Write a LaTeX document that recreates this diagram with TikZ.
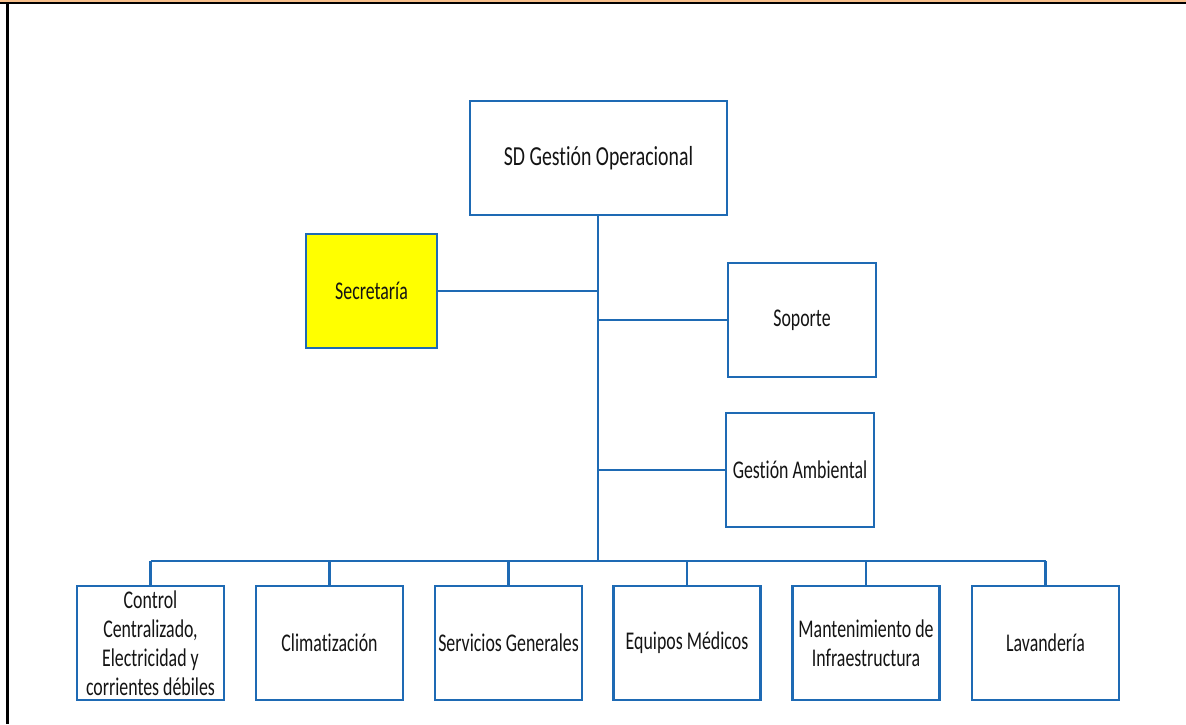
\documentclass[tikz,border=0pt]{standalone}
\usepackage{fontspec}
\setmainfont[FakeStretch=0.70, Ligatures={NoCommon}]{Carlito}
\newfontfamily\headfont[FakeStretch=0.72, Ligatures={NoCommon}]{Carlito}
\definecolor{orgblue}{HTML}{1E6AB4}
\definecolor{peach}{HTML}{F8C08C}
\definecolor{secyellow}{HTML}{FFFF00}

\begin{document}
\begin{tikzpicture}[x=1pt, y=-1pt,
  unit/.style={rectangle, draw=orgblue, line width=2.8pt, fill=white,
    inner sep=0pt, align=center, text=black!92,
    font=\fontsize{25.5}{29}\selectfont},
  lowunit/.style={unit, minimum width=147pt, minimum height=114pt},
  sideunit/.style={unit, minimum width=148pt, minimum height=114pt},
  link/.style={draw=orgblue, line width=2.8pt}]

  % page frame
  \useasboundingbox (0,0) rectangle (1186,724);
  \fill[peach] (0,0) rectangle (1186,2.4);
  \draw[black, line width=1.6pt] (0,3) -- (1186,3);
  \draw[black, line width=3pt] (7,2.3) -- (7,724);

  % head unit
  \node[unit, minimum width=257pt, minimum height=114pt,
        font=\headfont\fontsize{27.5}{32}\selectfont] (sd) at (598.5,158) {SD Gestión Operacional};

  % staff units
  \node[unit, fill=secyellow, minimum width=131pt, minimum height=114pt] (sec) at (371.5,291) {Secretaría};
  \node[sideunit] (sop) at (802,320) {Soporte};
  \node[sideunit] (amb) at (800,470) {Gestión Ambiental};

  % line units
  \node[lowunit] (b1) at (150.5,643) {Control\\Centralizado,\\Electricidad y\\corrientes débiles};
  \node[lowunit] (b2) at (329.5,643) {Climatización};
  \node[lowunit] (b3) at (508.5,643) {Servicios Generales};
  \node[lowunit] (b4) at (687,643) {Equipos Médicos};
  \node[lowunit] (b5) at (866,643) {Mantenimiento de\\Infraestructura};
  \node[lowunit] (b6) at (1045.5,643) {Lavandería};

  % connectors
  \coordinate (bus) at (598,561);
  \draw[link] (sd.south -| bus) -- (bus);
  \draw[link] (sec.east) -- (sec.east -| bus);
  \draw[link] (sop.west) -- (sop.west -| bus);
  \draw[link] (amb.west) -- (amb.west -| bus);
  \draw[link] (b1.north |- bus) -- (b6.north |- bus);
  \foreach \b in {b1,b2,b3,b4,b5,b6}
    \draw[link] (\b.north) -- (\b.north |- bus);
\end{tikzpicture}
\end{document}
